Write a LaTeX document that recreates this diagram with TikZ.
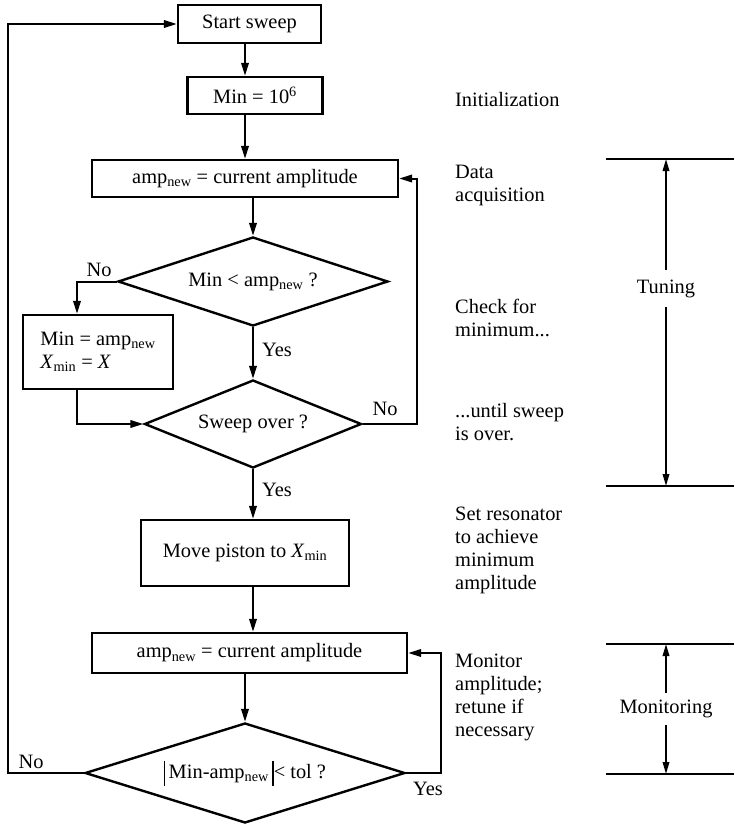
\documentclass[tikz,border=0pt]{standalone}
\usepackage{fontspec}
\setmainfont{Liberation Serif}
\usetikzlibrary{shapes.geometric,arrows.meta}
\newcommand{\absbar}{\rule[-7pt]{1.4pt}{25pt}}
\begin{document}
\begin{tikzpicture}[x=1pt,y=-1pt, font=\fontsize{20.4}{23.3}\selectfont,
 box/.style={draw,line width=2.4pt,inner sep=0pt,align=center},
 dia/.style={draw,diamond,line width=2.4pt,inner sep=0pt,aspect=3},
 conn/.style={line width=2pt,-{Triangle[length=13pt,width=7.5pt]}},
 lbl/.style={inner sep=0pt},
 note/.style={anchor=base west,align=left,inner sep=0pt},
 brk/.style={line width=2.4pt},
 barr/.style={line width=1.8pt,-{Triangle[length=12pt,width=6.5pt]}}]
\useasboundingbox (0,0) rectangle (734,824);

% nodes
\node[box,minimum width=143pt,minimum height=38pt] (start) at (249.5,24) {Start sweep};
\node[box,minimum width=135pt,minimum height=37pt] (init) at (255,95.5) {Min = 10\textsuperscript{6}};
\node[box,minimum width=306pt,minimum height=37pt] (amp1) at (245,178.5) {amp\textsubscript{new} = current amplitude};
\node[dia,minimum width=270pt,minimum height=89pt] (d1) at (253,281.5) {Min < amp\textsubscript{new} ?};
\node[box,align=left,minimum width=150pt,minimum height=74pt] (mb) at (98,352) {Min = amp\textsubscript{new}\\\textit{X}\textsubscript{min} = \textit{X}};
\node[dia,minimum width=217pt,minimum height=88pt] (d2) at (253,424) {Sweep over ?};
\node[box,minimum width=208pt,minimum height=66pt] (move) at (245,553) {Move piston to \textit{X}\textsubscript{min}};
\node[box,minimum width=315pt,minimum height=40pt] (amp2) at (249.5,653) {amp\textsubscript{new} = current amplitude};
\node[dia,minimum width=320pt,minimum height=100pt] (d3) at (245,773) {\absbar\,Min-amp\textsubscript{new}\,\absbar{}< tol ?};

\coordinate (xl) at (77,0);
\coordinate (xfar) at (8,0);

% connectors
\draw[conn] (start.south -| amp1.center) -- (init.north -| amp1.center);
\draw[conn] (init.south -| amp1.center) -- (amp1.north);
\draw[conn] (amp1.south -| d1.north) -- (d1.north);
\draw[conn] (d1.west) -| (xl |- mb.north);
\draw[conn] (d1.south) -- (d2.north);
\draw[conn] (xl |- mb.south) |- (d2.west);
\draw[conn] (d2.east) -- ++(54,0) |- (amp1.east);
\draw[conn] (d2.south) -- (d2.south |- move.north);
\draw[conn] (move.south -| d2.south) -- (amp2.north -| d2.south);
\draw[conn] (amp2.south -| d3.north) -- (d3.north);
\draw[conn] (d3.west) -- (d3.west -| xfar) |- (start.west);
\draw[conn] (d3.east) -- ++(35,0) |- (amp2.east);

% labels
\node[lbl] (no1) at (99,270) {No};
\node[lbl] (yes1) at (277,350) {Yes};
\node[lbl] (no2) at (385,409) {No};
\node[lbl] (yes2) at (277,490) {Yes};
\node[lbl] (no3) at (31,762) {No};
\node[lbl] (yes3) at (428,789) {Yes};

% notes (anchor = baseline of the last line)
\node[note] (n1) at (455,107) {Initialization};
\node[note] (n2) at (455,201.3) {Data\\acquisition};
\node[note] (n3) at (455,336.3) {Check for\\minimum...};
\node[note] (n4) at (455,440.3) {...until sweep\\is over.};
\node[note] (n5) at (455,589.9) {Set resonator\\to achieve\\minimum\\amplitude};
\node[note] (n6) at (455,736.9) {Monitor\\amplitude;\\retune if\\necessary};

% brackets
\coordinate (t1) at (666,159);
\coordinate (t2) at (666,486);
\draw[brk] (606,159) -- (734,159);
\draw[brk] (606,486) -- (734,486);
\node[inner sep=9.5pt] (tun) at (666,288.5) {Tuning};
\draw[barr] (tun.north) -- (t1);
\draw[barr] (tun.south) -- (t2);

\coordinate (m1) at (666,644);
\coordinate (m2) at (666,774);
\draw[brk] (606,644) -- (734,644);
\draw[brk] (606,774) -- (734,774);
\node[inner sep=6.5pt] (mon) at (666,709) {Monitoring};
\draw[barr] (mon.north) -- (m1);
\draw[barr] (mon.south) -- (m2);
\end{tikzpicture}
\end{document}
